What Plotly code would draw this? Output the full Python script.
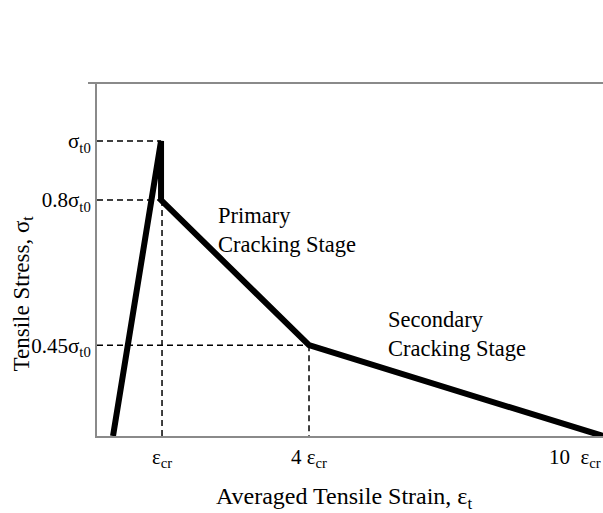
import plotly.graph_objects as go

# Schematic tensile stress-strain curve (strain in units of eps_cr, stress in units of sigma_t0 as drawn)
strain = [0, 0.98, 0.98, 4, 10]
stress = [0, 1.0, 0.8, 0.308, 0]

ytick_vals = [1.0, 0.8, 0.308]
ytick_text = ["σ<sub>t0</sub>", "0.8σ<sub>t0</sub>", "0.45σ<sub>t0</sub>"]

xtick_vals = [1, 4, 10]
xtick_text = ["ε<sub>cr</sub>", "4 ε<sub>cr</sub>", "10  ε<sub>cr</sub>"]

XMIN, XMAX = -0.327, 10.0
YMIN, YMAX = 0.0, 1.197

FONT = "Liberation Serif, Times New Roman, serif"
FS = 21

fig = go.Figure()

dash = dict(color="black", width=1.5, dash="6px,4px")
# dashed guide lines
fig.add_trace(go.Scatter(x=[XMIN, 0.98], y=[1.0, 1.0], mode="lines", line=dash, hoverinfo="skip"))
fig.add_trace(go.Scatter(x=[XMIN, 0.98], y=[0.8, 0.8], mode="lines", line=dash, hoverinfo="skip"))
fig.add_trace(go.Scatter(x=[1.0, 1.0], y=[0.8, 0], mode="lines", line=dash, hoverinfo="skip"))
fig.add_trace(go.Scatter(x=[XMIN, 4], y=[0.308, 0.308], mode="lines", line=dash, hoverinfo="skip"))
fig.add_trace(go.Scatter(x=[4, 4], y=[0.308, 0], mode="lines", line=dash, hoverinfo="skip"))

# main curve
fig.add_trace(go.Scatter(x=strain, y=stress, mode="lines",
                         line=dict(color="black", width=6), cliponaxis=False))

fig.update_layout(
    width=603, height=513,
    margin=dict(l=97, r=0, t=83, b=77),
    paper_bgcolor="white", plot_bgcolor="white",
    showlegend=False,
    font=dict(family=FONT, size=FS, color="black"),
    xaxis=dict(range=[XMIN, XMAX], showgrid=False, zeroline=False,
               showline=True, linecolor="#8a8a8a", linewidth=2,
               showticklabels=False, ticks=""),
    yaxis=dict(range=[YMIN, YMAX], showgrid=False, zeroline=False,
               showline=True, linecolor="#8a8a8a", linewidth=2,
               tickvals=ytick_vals, ticktext=ytick_text, ticks="",
               tickfont=dict(family=FONT, size=FS, color="black")),
)

# top border line
fig.add_shape(type="line", xref="paper", yref="paper",
              x0=(88 - 97) / 506, x1=1, y0=1, y1=1,
              line=dict(color="#8a8a8a", width=2))

# x tick labels
for xv, xt in zip(xtick_vals, xtick_text):
    fig.add_annotation(x=xv, y=-0.062, xref="x", yref="paper", text=xt,
                       showarrow=False, xanchor="right" if xv == 10 else "center",
                       yanchor="middle", font=dict(family=FONT, size=FS))

# axis titles
fig.add_annotation(x=0.488, y=-0.176, xref="paper", yref="paper",
                   text="Averaged Tensile Strain, ε<sub>t</sub>", showarrow=False,
                   xanchor="center", yanchor="middle", font=dict(family=FONT, size=24))
fig.add_annotation(x=(23 - 97) / 506, y=0.404, xref="paper", yref="paper",
                   text="Tensile Stress, σ<sub>t</sub>", showarrow=False, textangle=-90,
                   xanchor="center", yanchor="middle", font=dict(family=FONT, size=23))

# stage labels
fig.add_annotation(x=2.1, y=0.698, xref="x", yref="y",
                   text="Primary<br>Cracking Stage", showarrow=False, align="left",
                   xanchor="left", yanchor="middle", font=dict(family=FONT, size=22.5))
fig.add_annotation(x=5.58, y=0.346, xref="x", yref="y",
                   text="Secondary<br>Cracking Stage", showarrow=False, align="left",
                   xanchor="left", yanchor="middle", font=dict(family=FONT, size=22.5))

fig.write_html("out.html")
